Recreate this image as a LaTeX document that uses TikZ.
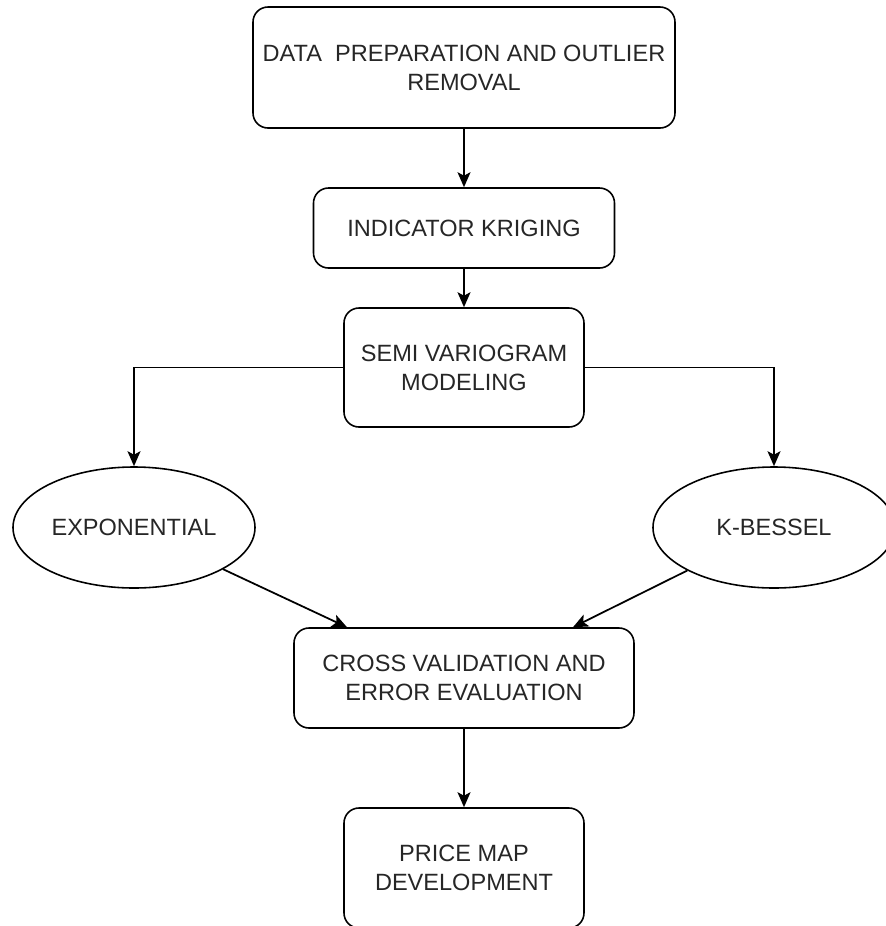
\documentclass[tikz,border=0pt]{standalone}
\usepackage{fontspec}
\setmainfont{Liberation Sans}
\usetikzlibrary{arrows.meta,shapes.geometric}
\begin{document}
\begin{tikzpicture}[
box/.style={
draw,
rounded corners=0.3cm,
align=center,
font=\fontsize{13.4}{16.5}\selectfont,
text=black!85,
line width=0.9pt,
inner sep=0pt
},
oval/.style={
draw,
ellipse,
align=center,
font=\fontsize{13.4}{16.5}\selectfont,
text=black!85,
line width=0.9pt,
inner sep=0pt,
minimum width=4.84cm,
minimum height=2.42cm
},
arrow/.style={-{Stealth[length=0.3cm,width=0.26cm,inset=0.07cm]}, line width=1pt}
]
\useasboundingbox (0,0) rectangle (17.72,-18.52);
\node[box, minimum width=8.44cm, minimum height=2.42cm] (prep) at (9.28,-1.35)
{DATA\ \ PREPARATION AND OUTLIER\\REMOVAL};
\node[box, minimum width=6.02cm, minimum height=1.60cm] (kriging) at (9.28,-4.56)
{INDICATOR KRIGING};
\node[box, minimum width=4.80cm, minimum height=2.38cm] (semi) at (9.28,-7.35)
{SEMI VARIOGRAM\\MODELING};
\node[oval] (expo) at (2.68,-10.55)
{EXPONENTIAL};
\node[oval] (kbessel) at (15.48,-10.55)
{K-BESSEL};
\node[box, minimum width=6.80cm, minimum height=2.00cm] (cross) at (9.28,-13.56)
{CROSS VALIDATION AND\\ERROR EVALUATION};
\node[box, minimum width=4.80cm, minimum height=2.40cm] (price) at (9.28,-17.36)
{PRICE MAP\\DEVELOPMENT};
\draw[arrow] (prep) -- (kriging);
\draw[arrow] (kriging) -- (semi);
\draw[arrow] (semi.west) -| (expo.north);
\draw[arrow] (semi.east) -| (kbessel.north);
\draw[arrow] (expo) -- ([xshift=-2.34cm]cross.north);
\draw[arrow] (kbessel) -- ([xshift=2.18cm]cross.north);
\draw[arrow] (cross) -- (price);
\end{tikzpicture}
\end{document}
